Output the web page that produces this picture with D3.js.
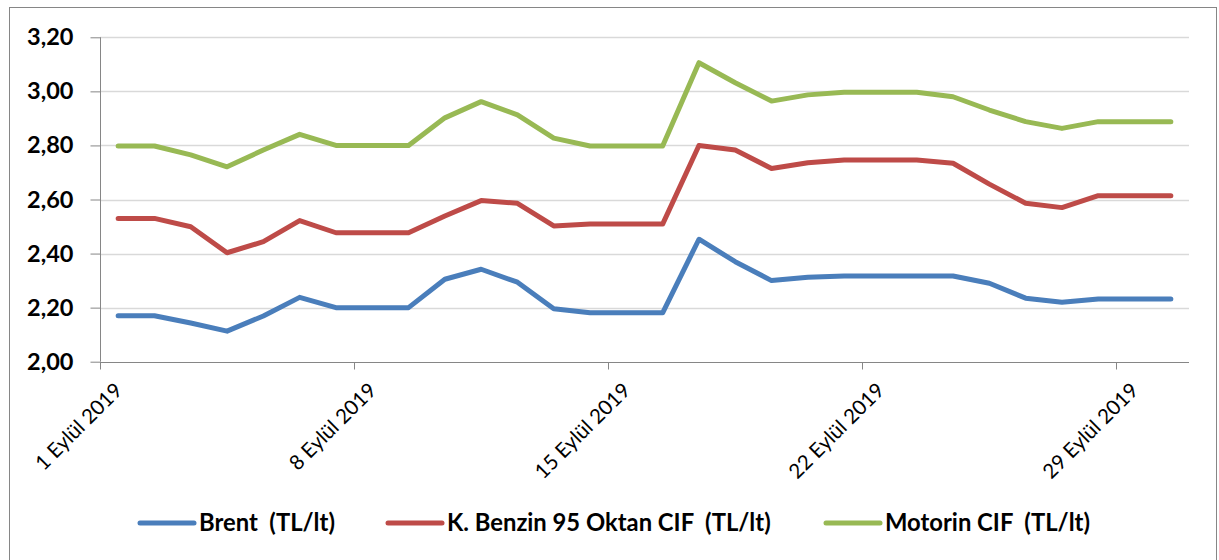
<!DOCTYPE html>
<html>
<head>
<meta charset="utf-8">
<script src="https://cdn.jsdelivr.net/npm/d3@7"></script>
<style>
  body { margin: 0; background: #fff; }
  svg { display: block; font-family: Lato, "Open Sans", sans-serif; }
</style>
</head>
<body>
<svg class="chart" width="1219" height="560"></svg>
<script>
// days of September 2019
const days = d3.range(1, 31);
const tickDays = [1, 8, 15, 22, 29];
const yTicks = [2.0, 2.2, 2.4, 2.6, 2.8, 3.0, 3.2];

const brent = [2.17, 2.17, 2.143, 2.113, 2.169, 2.238, 2.20, 2.20, 2.20, 2.305,
  2.342, 2.294, 2.196, 2.181, 2.181, 2.181, 2.453, 2.37, 2.30, 2.312,
  2.317, 2.317, 2.317, 2.317, 2.29, 2.235, 2.22, 2.232, 2.232, 2.232];
const benzin = [2.53, 2.53, 2.499, 2.403, 2.444, 2.522, 2.477, 2.477, 2.477, 2.539,
  2.596, 2.586, 2.502, 2.509, 2.509, 2.509, 2.80, 2.783, 2.715, 2.736,
  2.746, 2.746, 2.746, 2.734, 2.657, 2.586, 2.57, 2.614, 2.614, 2.614];
const motorin = [2.798, 2.798, 2.765, 2.721, 2.783, 2.841, 2.80, 2.80, 2.80, 2.902,
  2.962, 2.913, 2.827, 2.798, 2.798, 2.798, 3.106, 3.032, 2.964, 2.987,
  2.997, 2.997, 2.997, 2.98, 2.931, 2.888, 2.863, 2.888, 2.888, 2.888];

const seriesNames = ["Brent  (TL/lt)", "K. Benzin 95 Oktan CIF  (TL/lt)", "Motorin CIF  (TL/lt)"];
const seriesColors = ["#4a7ebb", "#be4b48", "#98b954"];
const seriesValues = [brent, benzin, motorin];

const svg = d3.select(".chart");

// outer frame
svg.append("rect")
  .attr("x", 9.5).attr("y", 7.5)
  .attr("width", 1207).attr("height", 560)
  .attr("fill", "none").attr("stroke", "#868686");

const x = d3.scaleBand().domain(days).range([100, 1189]);
const y = d3.scaleLinear().domain([2.0, 3.2]).range([361.7, 37.3]);

// gridlines
svg.append("g")
  .selectAll("line")
  .data(yTicks.slice(1))
  .join("line")
  .attr("x1", 100).attr("x2", 1189)
  .attr("y1", d => Math.round(y(d)) + 0.5).attr("y2", d => Math.round(y(d)) + 0.5)
  .attr("stroke", "#d9d9d9").attr("stroke-width", 1.3);

// y axis
const yAxis = svg.append("g")
  .attr("transform", "translate(100.5,0)")
  .call(d3.axisLeft(y).tickValues(yTicks).tickSize(10).tickPadding(17)
    .tickFormat(d => d3.format(".2f")(d).replace(".", ",")));
yAxis.select(".domain").attr("stroke", "#868686").attr("d", `M0,${y(3.2)}V${y(2.0)}`);
yAxis.selectAll(".tick line").attr("stroke", "#868686");
yAxis.selectAll(".tick text")
  .attr("fill", "#000").attr("font-size", 23.5).attr("font-weight", "bold")
  .attr("font-family", "Lato, sans-serif");

// x axis, ticks at the start of each labelled day
const xAxis = svg.append("g")
  .attr("transform", `translate(0,${Math.round(y(2.0)) + 0.5})`);
xAxis.append("line")
  .attr("x1", 100).attr("x2", 1189)
  .attr("stroke", "#868686");
const xt = xAxis.selectAll(".xtick")
  .data(tickDays)
  .join("g")
  .attr("class", "xtick")
  .attr("transform", d => `translate(${Math.round(x(d)) + 0.5},0)`);
xt.append("line").attr("y2", 7).attr("stroke", "#868686");
xt.append("text")
  .attr("transform", "translate(18,24) rotate(-45)")
  .attr("text-anchor", "end")
  .attr("dy", "0.35em")
  .attr("font-size", 20.5)
  .attr("fill", "#000")
  .text(d => d + " Eylül 2019");

// data lines
const line = d3.line()
  .x((d, i) => x(days[i]) + x.bandwidth() / 2)
  .y(d => y(d));

svg.append("g")
  .selectAll("path")
  .data(seriesValues)
  .join("path")
  .attr("d", line)
  .attr("fill", "none")
  .attr("stroke", (d, i) => seriesColors[i])
  .attr("stroke-width", 5)
  .attr("stroke-linejoin", "round")
  .attr("stroke-linecap", "round");

// legend
const legendX = [140, 388, 826];
const legend = svg.append("g")
  .selectAll("g")
  .data(seriesNames)
  .join("g")
  .attr("transform", (d, i) => `translate(${legendX[i]},523)`);
legend.append("line")
  .attr("x2", 54)
  .attr("stroke", (d, i) => seriesColors[i])
  .attr("stroke-width", 5)
  .attr("stroke-linecap", "round");
legend.append("text")
  .attr("x", 59)
  .attr("dy", "0.35em")
  .attr("font-size", 23.8)
  .attr("font-weight", "bold")
  .attr("fill", "#000")
  .attr("xml:space", "preserve")
  .style("white-space", "pre")
  .text(d => d);
</script>
</body>
</html>
